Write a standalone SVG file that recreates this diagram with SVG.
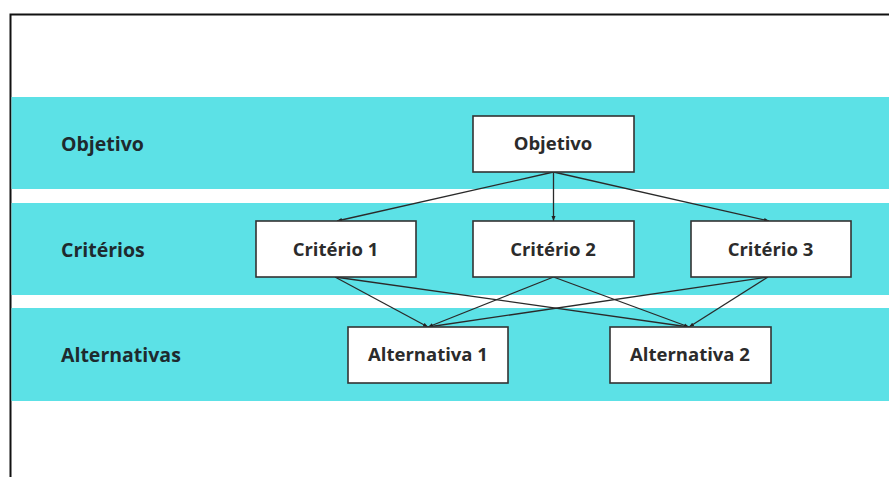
<svg xmlns="http://www.w3.org/2000/svg" width="889" height="477" viewBox="0 0 889 477">
  <defs>
    <marker id="ah" viewBox="0 0 10 10" refX="10" refY="5" markerWidth="5" markerHeight="5" orient="auto" markerUnits="userSpaceOnUse">
      <path d="M0,1 L10,5 L0,9 z" fill="#222"/>
    </marker>
    <style>
      .band { fill: #5ce1e6; }
      .box { fill: #ffffff; stroke: #333333; stroke-width: 1.6; }
      .lbl { font-family: "Open Sans", "Noto Sans", "Liberation Sans", sans-serif; font-weight: 700; font-size: 19.5px; fill: #1e2a2e; }
      .txt { font-family: "Open Sans", "Noto Sans", "Liberation Sans", sans-serif; font-weight: 700; font-size: 18.5px; fill: #2b2b2b; text-anchor: middle; }
      .edge { stroke: #2a2a2a; stroke-width: 1.3; fill: none; marker-end: url(#ah); }
    </style>
  </defs>
  <rect width="889" height="477" fill="#ffffff"/>
  <g id="frame">
    <path d="M10.5,477 L10.5,14.5 L889,14.5" fill="none" stroke="#111" stroke-width="2"/>
  </g>
  <g id="bands">
    <rect class="band" x="11.5" y="97" width="877.5" height="92"/>
    <rect class="band" x="11.5" y="203" width="877.5" height="92"/>
    <rect class="band" x="11.5" y="308" width="877.5" height="93"/>
  </g>
  <g id="row-labels">
    <text class="lbl" x="61" y="151">Objetivo</text>
    <text class="lbl" x="61" y="256.5">Critérios</text>
    <text class="lbl" x="61" y="362">Alternativas</text>
  </g>
  <g id="connectors">
    <line class="edge" x1="553.5" y1="172" x2="337" y2="221"/>
    <line class="edge" x1="553.5" y1="172" x2="553.5" y2="221"/>
    <line class="edge" x1="553.5" y1="172" x2="769" y2="221"/>
    <line class="edge" x1="335" y1="277" x2="428" y2="327"/>
    <line class="edge" x1="335" y1="277" x2="689" y2="327"/>
    <line class="edge" x1="553.5" y1="277" x2="428" y2="327"/>
    <line class="edge" x1="553.5" y1="277" x2="689" y2="327"/>
    <line class="edge" x1="768" y1="277" x2="428" y2="327"/>
    <line class="edge" x1="768" y1="277" x2="689" y2="327"/>
  </g>
  <g id="node-objetivo">
    <rect class="box" x="473" y="116" width="161" height="56"/>
    <text class="txt" x="553" y="150">Objetivo</text>
  </g>
  <g id="node-criterio1">
    <rect class="box" x="256" y="221" width="160" height="56"/>
    <text class="txt" x="335.5" y="255.5">Critério 1</text>
  </g>
  <g id="node-criterio2">
    <rect class="box" x="473" y="221" width="161" height="56"/>
    <text class="txt" x="553" y="255.5">Critério 2</text>
  </g>
  <g id="node-criterio3">
    <rect class="box" x="691" y="221" width="160" height="56"/>
    <text class="txt" x="770.5" y="255.5">Critério 3</text>
  </g>
  <g id="node-alternativa1">
    <rect class="box" x="348" y="327" width="160" height="56"/>
    <text class="txt" x="428" y="361">Alternativa 1</text>
  </g>
  <g id="node-alternativa2">
    <rect class="box" x="610" y="327" width="161" height="56"/>
    <text class="txt" x="690" y="361">Alternativa 2</text>
  </g>
</svg>
